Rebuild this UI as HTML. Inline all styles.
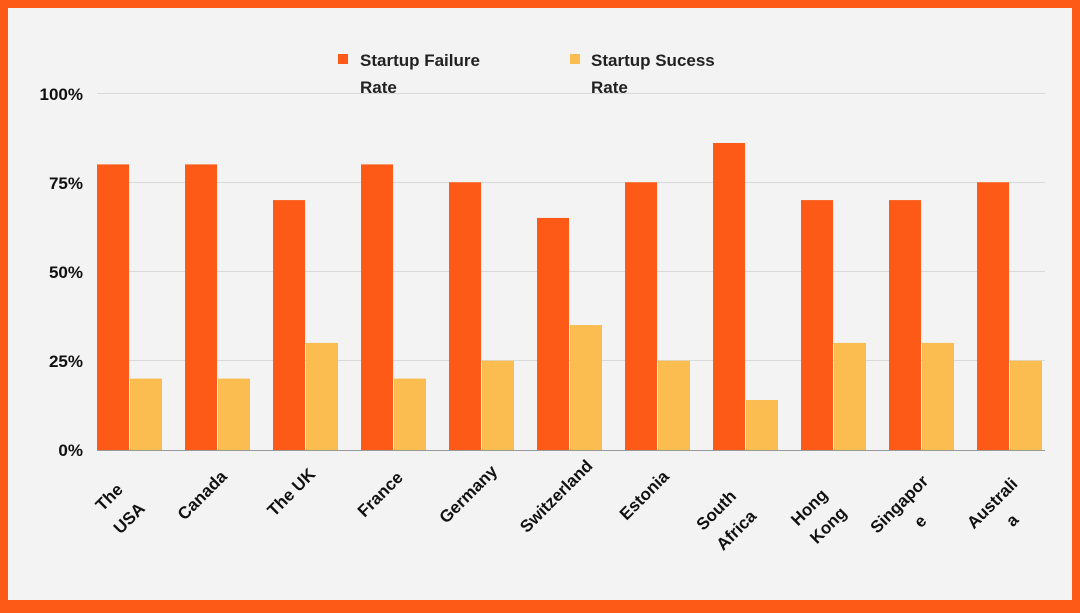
<!DOCTYPE html>
<html><head><meta charset="utf-8"><style>
html,body{margin:0;padding:0}
body{width:1080px;height:608px;overflow:hidden;background:#fe5a17}
</style></head><body>
<svg width="1080" height="608" xmlns="http://www.w3.org/2000/svg" font-family="Liberation Sans, Arial, sans-serif" font-weight="bold">
<rect x="0" y="0" width="1080" height="608" fill="#fe5a17"/>
<rect x="8" y="8" width="1064" height="592" fill="#f3f3f3"/>
<g stroke="#d9d9d9" stroke-width="1">
<line x1="97" y1="93.5" x2="1045" y2="93.5"/>
<line x1="97" y1="182.5" x2="1045" y2="182.5"/>
<line x1="97" y1="271.5" x2="1045" y2="271.5"/>
<line x1="97" y1="360.5" x2="1045" y2="360.5"/>
</g>
<g font-size="17" fill="#111" text-anchor="end">
<text x="83" y="100">100%</text>
<text x="83" y="189">75%</text>
<text x="83" y="278">50%</text>
<text x="83" y="367">25%</text>
<text x="83" y="456">0%</text>
</g>
<g id="bars"></g>
<line x1="97" y1="450.5" x2="1045" y2="450.5" stroke="#999" stroke-width="1"/>
<g id="labels" font-size="17" fill="#111" text-anchor="middle"></g>
<rect x="338" y="54" width="10" height="10" fill="#fe5a17"/>
<text x="360" y="66" font-size="17" fill="#222">Startup Failure</text>
<text x="360" y="93" font-size="17" fill="#222">Rate</text>
<rect x="570" y="54" width="10" height="10" fill="#fbbc50"/>
<text x="591" y="66" font-size="17" fill="#222">Startup Sucess</text>
<text x="591" y="93" font-size="17" fill="#222">Rate</text>
<script>
var d=[["The|USA",80,20,[-20,497,0,518]],["Canada",80,20,[-15,495]],["The UK",70,30,[-14,492]],["France",80,20,[-13,494]],["Germany",75,25,[-13,494]],["Switzerland",65,35,[-13,496]],["Estonia",75,25,[-13,495]],["South|Africa",86,14,[-29,510,-9,530]],["Hong|Kong",70,30,[-24,507,-5,525]],["Singapor|e",70,30,[-22,504,-1,521]],["Australi|a",75,25,[-17,503,3,520]]];
var ns="http://www.w3.org/2000/svg",b=document.getElementById("bars"),l=document.getElementById("labels");
function r(x,v,c){var e=document.createElementNS(ns,"rect");var h=v*3.57;e.setAttribute("x",x);e.setAttribute("y",450-h);e.setAttribute("width",32);e.setAttribute("height",h);e.setAttribute("fill",c);b.appendChild(e);}
function t(s,x,y){var e=document.createElementNS(ns,"text");e.setAttribute("transform","translate("+x+","+y+") rotate(-45)");e.setAttribute("dy","6");e.textContent=s;l.appendChild(e);}
d.forEach(function(a,i){var gx=97+88*i,gc=gx+32;r(gx,a[1],"#fe5a17");r(gx+33,a[2],"#fbbc50");
var p=a[0].split("|"),q=a[3];t(p[0],gc+q[0],q[1]);if(p.length>1)t(p[1],gc+q[2],q[3]);});
</script>
</svg>
</body></html>
